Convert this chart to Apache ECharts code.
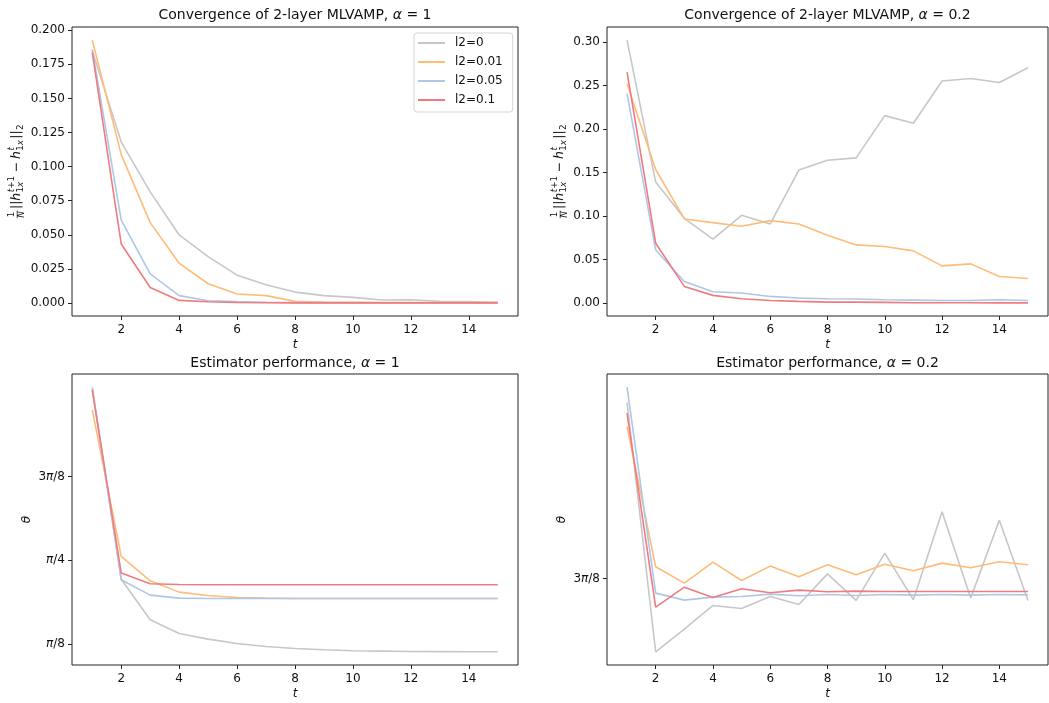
<!DOCTYPE html>
<html>
<head>
<meta charset="utf-8">
<script src="https://cdn.jsdelivr.net/npm/echarts@6/dist/echarts.min.js"></script>
<style>
  html, body { margin: 0; padding: 0; background: #fff; }
  #chart { width: 1049px; height: 703px; }
</style>
</head>
<body>
<div id="chart"></div>
<script>
// Iteration index
const tSteps = [1, 2, 3, 4, 5, 6, 7, 8, 9, 10, 11, 12, 13, 14, 15];
const seriesNames = ['l2=0', 'l2=0.01', 'l2=0.05', 'l2=0.1'];

// Convergence, alpha = 1
const convA1_l2_0   = [0.185, 0.118, 0.0815, 0.0499, 0.034, 0.0204, 0.0134, 0.008, 0.0054, 0.0041, 0.0022, 0.0024, 0.0012, 0.001, 0.0005];
const convA1_l2_001 = [0.1927, 0.1088, 0.0589, 0.0292, 0.0141, 0.0066, 0.0054, 0.0012, 0.0007, 0.0005, 0.0004, 0.0004, 0.0003, 0.0003, 0.0003];
const convA1_l2_005 = [0.186, 0.0608, 0.0214, 0.0054, 0.0017, 0.001, 0.0006, 0.0004, 0.0003, 0.0003, 0.0002, 0.0002, 0.0002, 0.0002, 0.0002];
const convA1_l2_01  = [0.1837, 0.0433, 0.0114, 0.0019, 0.0009, 0.0004, 0.0002, 0.0001, 0.0001, 0.0001, 0.0001, 0.0001, 0.0001, 0.0001, 0.0001];

// Convergence, alpha = 0.2
const convA02_l2_0   = [0.302, 0.139, 0.0973, 0.0733, 0.1008, 0.0908, 0.1527, 0.1641, 0.1668, 0.2153, 0.2065, 0.255, 0.258, 0.2534, 0.2702];
const convA02_l2_001 = [0.2519, 0.1534, 0.0966, 0.0924, 0.0882, 0.0947, 0.0908, 0.0779, 0.0668, 0.0649, 0.0599, 0.0427, 0.045, 0.0305, 0.0282];
const convA02_l2_005 = [0.2405, 0.061, 0.0248, 0.013, 0.0115, 0.0076, 0.0057, 0.005, 0.0046, 0.0038, 0.0034, 0.003, 0.003, 0.0038, 0.003];
const convA02_l2_01  = [0.2653, 0.0687, 0.0191, 0.0088, 0.005, 0.003, 0.0019, 0.0011, 0.001, 0.0008, 0.0004, 0.0003, 0.0003, 0.0002, 0.0002];

// Estimator angle theta, alpha = 1
const thetaA1_l2_0   = [1.597, 0.696, 0.5054, 0.4412, 0.4146, 0.3943, 0.3802, 0.3708, 0.3645, 0.3598, 0.3583, 0.3567, 0.356, 0.3552, 0.3552];
const thetaA1_l2_001 = [1.491, 0.8026, 0.6884, 0.6352, 0.6196, 0.6102, 0.607, 0.6055, 0.6055, 0.6055, 0.6055, 0.6055, 0.6055, 0.6055, 0.6055];
const thetaA1_l2_005 = [1.588, 0.6931, 0.6211, 0.607, 0.6055, 0.6055, 0.6055, 0.6055, 0.6055, 0.6055, 0.6055, 0.6055, 0.6055, 0.6055, 0.6055];
const thetaA1_l2_01  = [1.585, 0.7244, 0.6743, 0.6712, 0.6696, 0.6696, 0.6696, 0.6696, 0.6696, 0.6696, 0.6696, 0.6696, 0.6696, 0.6696, 0.6696];

// Estimator angle theta, alpha = 0.2
const thetaA02_l2_0   = [1.504, 1.0423, 1.0843, 1.1281, 1.1225, 1.1448, 1.13, 1.1867, 1.1374, 1.225, 1.1386, 1.3016, 1.1417, 1.2861, 1.1374];
const thetaA02_l2_001 = [1.4596, 1.1997, 1.1695, 1.2083, 1.1744, 1.201, 1.1812, 1.2034, 1.1849, 1.2046, 1.1923, 1.2065, 1.1979, 1.209, 1.2034];
const thetaA02_l2_005 = [1.5324, 1.151, 1.138, 1.1435, 1.1448, 1.1491, 1.146, 1.1485, 1.1466, 1.1485, 1.1472, 1.1485, 1.1472, 1.1485, 1.1478];
const thetaA02_l2_01  = [1.4843, 1.125, 1.162, 1.1429, 1.159, 1.1516, 1.1565, 1.1534, 1.1546, 1.154, 1.154, 1.154, 1.154, 1.154, 1.154];

// Tick positions and labels
const tTicks = [2, 4, 6, 8, 10, 12, 14];
const convA1Ticks = [0, 0.025, 0.05, 0.075, 0.1, 0.125, 0.15, 0.175, 0.2];
const convA02Ticks = [0, 0.05, 0.1, 0.15, 0.2, 0.25, 0.3];
const thetaTickValues = [Math.PI / 8, Math.PI / 4, 3 * Math.PI / 8];
const thetaTickLabels = ['{i|π}/8', '{i|π}/4', '3{i|π}/8'];

const FONT = '"DejaVu Sans", "Liberation Sans", sans-serif';
const INK = '#111';
const lineColors = ['#c7c7c7', '#ffbb78', '#aec7e8', '#f07b7e'];

// Axis limits with 5% padding around the data
function paddedRange(arrays) {
  let lo = Infinity, hi = -Infinity;
  arrays.forEach(a => a.forEach(v => { lo = Math.min(lo, v); hi = Math.max(hi, v); }));
  const pad = (hi - lo) * 0.05;
  return [lo - pad, hi + pad];
}

const panels = [
  { grid: { left: 72, top: 27, width: 446, height: 289 },
    lines: [convA1_l2_0, convA1_l2_001, convA1_l2_005, convA1_l2_01],
    yTicks: convA1Ticks, yFmt: v => v.toFixed(3), yName: null,
    title: 'Convergence of 2-layer MLVAMP, {i|α} = 1', titleTop: 8 },
  { grid: { left: 607, top: 27, width: 441, height: 289 },
    lines: [convA02_l2_0, convA02_l2_001, convA02_l2_005, convA02_l2_01],
    yTicks: convA02Ticks, yFmt: v => v.toFixed(2), yName: null,
    title: 'Convergence of 2-layer MLVAMP, {i|α} = 0.2', titleTop: 8 },
  { grid: { left: 72, top: 374, width: 446, height: 291 },
    lines: [thetaA1_l2_0, thetaA1_l2_001, thetaA1_l2_005, thetaA1_l2_01],
    yTicks: thetaTickValues, yFmt: thetaLabel, yName: 'θ',
    title: 'Estimator performance, {i|α} = 1', titleTop: 356 },
  { grid: { left: 607, top: 374, width: 441, height: 291 },
    lines: [thetaA02_l2_0, thetaA02_l2_001, thetaA02_l2_005, thetaA02_l2_01],
    yTicks: thetaTickValues, yFmt: thetaLabel, yName: 'θ',
    title: 'Estimator performance, {i|α} = 0.2', titleTop: 356 }
];

function thetaLabel(v) {
  const i = thetaTickValues.findIndex(x => Math.abs(x - v) < 1e-9);
  return i >= 0 ? thetaTickLabels[i] : '';
}

const xRange = paddedRange([tSteps]);
const italicRich = { i: { fontStyle: 'italic', fontFamily: FONT, fontSize: 12, color: INK } };

const grids = [], xAxes = [], yAxes = [], series = [], titles = [];
panels.forEach((p, k) => {
  grids.push(Object.assign({ show: true, borderColor: '#222', borderWidth: 1, backgroundColor: 'transparent' }, p.grid));
  const yRange = paddedRange(p.lines);
  xAxes.push({
    type: 'value', gridIndex: k, min: xRange[0], max: xRange[1],
    axisLine: { show: false, onZero: false }, splitLine: { show: false },
    axisTick: { show: true, inside: false, length: 4, lineStyle: { color: '#222', width: 1 }, customValues: tTicks },
    axisLabel: { customValues: tTicks, fontFamily: FONT, fontSize: 12, color: INK, margin: 8 },
    name: 't', nameLocation: 'middle', nameGap: 23,
    nameTextStyle: { fontStyle: 'italic', fontFamily: FONT, fontSize: 12, color: INK }
  });
  const ticks = p.yTicks.filter(v => v >= yRange[0] && v <= yRange[1]);
  const ya = {
    type: 'value', gridIndex: k, min: yRange[0], max: yRange[1],
    axisLine: { show: false, onZero: false }, splitLine: { show: false },
    axisTick: { show: true, inside: false, length: 4, lineStyle: { color: '#222', width: 1 }, customValues: ticks },
    axisLabel: { customValues: ticks, formatter: p.yFmt, fontFamily: FONT, fontSize: 12, color: INK, margin: 7, rich: italicRich }
  };
  if (p.yName) {
    ya.name = p.yName; ya.nameLocation = 'middle'; ya.nameGap = 39; ya.nameRotate = 90;
    ya.nameTextStyle = { fontStyle: 'italic', fontFamily: FONT, fontSize: 12, color: INK };
  }
  yAxes.push(ya);
  p.lines.forEach((vals, j) => {
    series.push({
      type: 'line', name: seriesNames[j], xAxisIndex: k, yAxisIndex: k,
      data: tSteps.map((t, n) => [t, vals[n]]),
      showSymbol: false, symbol: 'none', color: lineColors[j],
      lineStyle: { color: lineColors[j], width: 1.6 }, z: 2 + j, clip: true
    });
  });
  titles.push({
    text: p.title, left: p.grid.left + p.grid.width / 2, top: p.titleTop, textAlign: 'center', padding: 0,
    textStyle: { fontFamily: FONT, fontSize: 14, fontWeight: 'normal', color: INK,
      rich: { i: { fontStyle: 'italic', fontFamily: FONT, fontSize: 14, color: INK } } }
  });
});

// Rotated math label: (1/N) ||h_{1x}^{t+1} - h_{1x}^{t}||_2
const measureCtx = document.createElement('canvas').getContext('2d');
function fontStr(size, italic) { return (italic ? 'italic ' : '') + size + 'px ' + FONT; }
function textWidth(s, size, italic) { measureCtx.font = fontStr(size, italic); return measureCtx.measureText(s).width; }

const MAIN = 12.5, SCRIPT = 8.8;
const labelTokens = [
  { frac: ['1', 'N'] },
  { gap: 1.5 },
  { runs: [['||', false]] },
  { runs: [['h', true]] },
  { sup: [['t', true], ['+1', false]], sub: [['1', false], ['x', true]] },
  { gap: 2.8 },
  { runs: [['−', false]] },
  { gap: 2.8 },
  { runs: [['h', true]] },
  { sup: [['t', true]], sub: [['1', false], ['x', true]] },
  { gap: 0.5 },
  { runs: [['||', false]] },
  { sub: [['2', false]] }
];

function runWidth(runs, size) { return runs.reduce((w, r) => w + textWidth(r[0], size, r[1]), 0); }
function runTexts(runs, size, x, y) {
  const out = [];
  runs.forEach(r => {
    out.push({ type: 'text', x: x, y: y,
      style: { text: r[0], font: fontStr(size, r[1]), fill: INK, textAlign: 'left', textVerticalAlign: 'middle', align: 'left', verticalAlign: 'middle' } });
    x += textWidth(r[0], size, r[1]);
  });
  return out;
}

function buildMathLabel(cx, cy) {
  const children = [];
  let x = 0;
  labelTokens.forEach(tok => {
    if (tok.gap) { x += tok.gap; return; }
    if (tok.frac) {
      const wn = textWidth(tok.frac[0], SCRIPT, false), wd = textWidth(tok.frac[1], SCRIPT, true);
      const w = Math.max(wn, wd) + 1.2;
      children.push(...runTexts([[tok.frac[0], false]], SCRIPT, x + (w - wn) / 2, -4.8));
      children.push(...runTexts([[tok.frac[1], true]], SCRIPT, x + (w - wd) / 2, 5.1));
      children.push({ type: 'line', shape: { x1: x, y1: 0.2, x2: x + w, y2: 0.2 }, style: { stroke: INK, lineWidth: 0.7 } });
      x += w;
      return;
    }
    if (tok.runs) {
      children.push(...runTexts(tok.runs, MAIN, x, 0));
      x += runWidth(tok.runs, MAIN);
      return;
    }
    let w = 0;
    if (tok.sup) { children.push(...runTexts(tok.sup, SCRIPT, x + 0.5, -4.8)); w = Math.max(w, runWidth(tok.sup, SCRIPT) + 0.5); }
    if (tok.sub) { children.push(...runTexts(tok.sub, SCRIPT, x + 0.2, 4.2)); w = Math.max(w, runWidth(tok.sub, SCRIPT) + 0.2); }
    x += w + 0.8;
  });
  children.forEach(c => { if (c.type === 'text') c.x -= x / 2; else { c.shape.x1 -= x / 2; c.shape.x2 -= x / 2; } });
  return { type: 'group', x: cx, y: cy, rotation: Math.PI / 2, children: children };
}

const chart = echarts.init(document.getElementById('chart'), null, { renderer: 'canvas' });
chart.setOption({
  animation: false,
  backgroundColor: '#fff',
  title: titles,
  grid: grids,
  xAxis: xAxes,
  yAxis: yAxes,
  legend: {
    data: seriesNames, orient: 'vertical', left: 414, top: 33,
    icon: 'rect', itemWidth: 27, itemHeight: 2, itemGap: 5,
    padding: [3, 10, 5, 4], backgroundColor: '#fff',
    borderColor: '#d5d5d5', borderWidth: 1, borderRadius: 3,
    textStyle: { fontFamily: FONT, fontSize: 12, color: INK, lineHeight: 14, padding: [0, 0, 0, 5] },
    selectedMode: false
  },
  graphic: [buildMathLabel(17, 171), buildMathLabel(560, 171)],
  series: series
});
</script>
</body>
</html>
